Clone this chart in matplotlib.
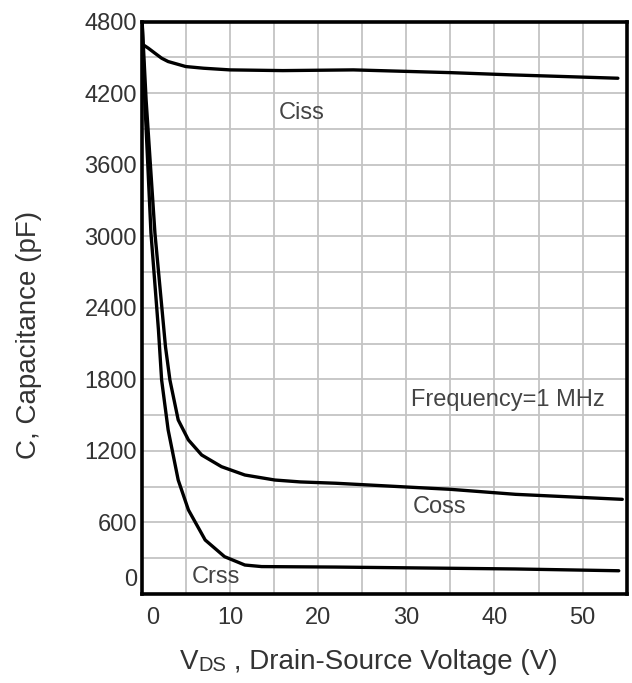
import matplotlib
matplotlib.use('Agg')
import matplotlib.pyplot as plt
from matplotlib.transforms import ScaledTranslation

# values (VDS in V, C in pF)
vds_ciss = [0.2, 0.75, 1.5, 2.26, 3.0, 5.0, 7.0, 10.0, 16.0, 24.0, 35.0, 42.0, 54.0]
ciss = [4605, 4578, 4536, 4494, 4466, 4424, 4410, 4396, 4390, 4396, 4373, 4354, 4326]

vds_coss = [0.05, 0.5, 1.5, 2.7, 3.2, 4.14, 5.3, 6.8, 9.05, 11.7, 15.1, 18.0, 22.0, 35.0, 42.4, 54.5]
coss = [4800, 4144, 3028, 2072, 1795, 1460, 1292, 1166, 1068, 998, 956, 940, 929, 878, 836, 794]

vds_crss = [0.05, 0.35, 1.05, 1.9, 2.26, 3.0, 4.14, 5.3, 7.2, 9.4, 11.7, 13.6, 22.0, 42.4, 54.1]
crss = [4800, 4144, 3028, 2215, 1795, 1376, 956, 705, 453, 313, 243, 230, 226, 210, 195]

x_ticks = [0, 10, 20, 30, 40, 50]
y_ticks = [0, 600, 1200, 1800, 2400, 3000, 3600, 4200, 4800]

plt.rcParams['font.family'] = ['Liberation Sans', 'DejaVu Sans']
txt = '#333333'

fig = plt.figure(figsize=(6.32, 6.83), dpi=100)
ax = fig.add_axes([0.2242, 0.1303, 0.9916 - 0.2242, 0.9682 - 0.1303])

ax.set_xlim(0, 55)
ax.set_ylim(0, 4800)
ax.set_xticks(range(0, 56, 5), minor=True)
ax.set_yticks(range(0, 4801, 300), minor=True)
ax.set_xticks(x_ticks)
ax.set_yticks(y_ticks)
ax.grid(True, which='both', color='#c4c4c4', linewidth=1.3)
ax.set_axisbelow(True)
ax.tick_params(which='both', length=0)
ax.tick_params(axis='x', pad=9, labelsize=17, labelcolor=txt)
ax.tick_params(axis='y', pad=3.4, labelsize=17, labelcolor=txt)
for s in ax.spines.values():
    s.set_linewidth(2.6)
    s.set_color('black')

ax.plot(vds_ciss, ciss, color='black', lw=2.4, solid_capstyle='round')
ax.plot(vds_coss, coss, color='black', lw=2.4, solid_capstyle='round')
ax.plot(vds_crss, crss, color='black', lw=2.4, solid_capstyle='round')

# the "0" labels sit off their ticks in the original
fig.canvas.draw()
xl0 = ax.get_xticklabels()[0]
xl0.set_transform(xl0.get_transform() + ScaledTranslation(8 / 72, 0, fig.dpi_scale_trans))
yl0 = ax.get_yticklabels()[0]
yl0.set_transform(yl0.get_transform() + ScaledTranslation(0, 12 / 72, fig.dpi_scale_trans))

lab = '#444444'
ax.text(18.2, 4035, 'Ciss', fontsize=17, color=lab, ha='center', va='center')
ax.text(30.5, 1627, 'Frequency=1 MHz', fontsize=17, color=lab, ha='left', va='center')
ax.text(30.7, 732, 'Coss', fontsize=17, color=lab, ha='left', va='center')
ax.text(5.66, 145, 'Crss', fontsize=17, color=lab, ha='left', va='center')

# y label
fig.text(0.046, 0.51, 'C, Capacitance (pF)', rotation=90, fontsize=20,
         color=txt, ha='center', va='center')

# x label: V with small-caps "DS"
t1 = fig.text(180 / 632, 8 / 683, 'V', fontsize=20, color=txt, ha='left', va='bottom')
t2 = ax.annotate('DS', xy=(1, 0), xycoords=t1, fontsize=14.5, color=txt,
                 ha='left', va='bottom', annotation_clip=False)
ax.annotate(' , Drain-Source Voltage (V)', xy=(1, 0), xycoords=t2, fontsize=20,
            color=txt, ha='left', va='bottom', annotation_clip=False)

fig.savefig('out.png', dpi=100)
